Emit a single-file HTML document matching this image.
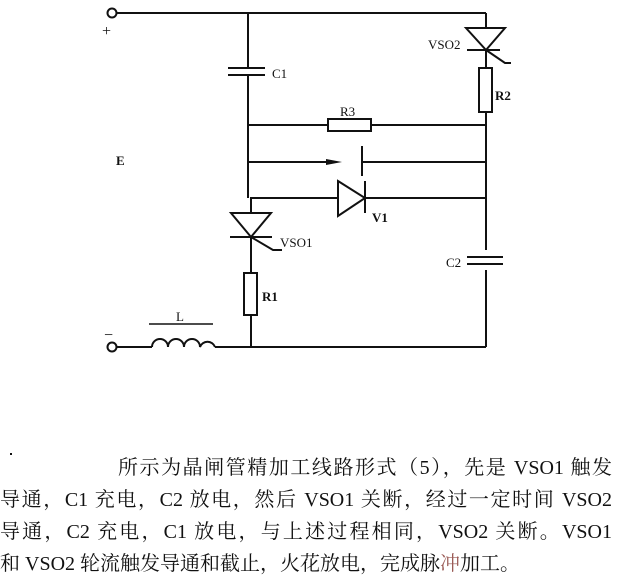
<!DOCTYPE html>
<html><head><meta charset="utf-8"><style>
body{margin:0;background:#fff;width:622px;height:584px;overflow:hidden;position:relative}
svg{position:absolute;left:0;top:0}
.t{position:absolute;font-family:"Liberation Serif","Noto Serif CJK SC",serif;font-size:20px;color:#111;text-align:justify;text-align-last:justify;white-space:nowrap;line-height:24px;height:24px}
</style></head><body>
<svg width="622" height="440" viewBox="0 0 622 440" font-family="Liberation Serif, serif" fill="none" stroke="#111" stroke-width="2">
<circle cx="112" cy="13" r="4.5" fill="#fff"/>
<line x1="116" y1="13" x2="486" y2="13"/>
<line x1="486" y1="13" x2="486" y2="347"/>
<!-- C1 -->
<line x1="248" y1="13" x2="248" y2="68"/>
<line x1="228" y1="68" x2="265" y2="68"/>
<line x1="228" y1="75" x2="265" y2="75"/>
<line x1="248" y1="75" x2="248" y2="198"/>
<!-- R3 -->
<line x1="248" y1="125" x2="328" y2="125"/>
<rect x="328" y="119" width="43" height="12" fill="#fff"/>
<line x1="371" y1="125" x2="486" y2="125"/>
<!-- arrow line -->
<line x1="248" y1="162" x2="330" y2="162"/>
<polygon points="326,159 342,162 326,165" fill="#111" stroke="none"/>
<line x1="362" y1="146" x2="362" y2="176"/>
<line x1="362" y1="162" x2="486" y2="162"/>
<!-- diode V1 -->
<line x1="250" y1="198" x2="486" y2="198"/>
<polygon points="338,181 365,198 338,216" fill="#fff"/>
<line x1="365" y1="181" x2="365" y2="213"/>
<!-- VSO2 -->
<polygon points="466,28 505,28 486,50" fill="#fff"/>
<line x1="467" y1="50" x2="500" y2="50"/>
<polyline points="486,50 505,63 511,63"/>
<rect x="479" y="68" width="13" height="44" fill="#fff"/>
<!-- VSO1 -->
<line x1="251" y1="198" x2="251" y2="347"/>
<polygon points="231,213 271,213 251,237" fill="#fff"/>
<line x1="230" y1="237" x2="272" y2="237"/>
<polyline points="251,237 273,250 282,250"/>
<rect x="244" y="273" width="13" height="42" fill="#fff"/>
<!-- C2 -->
<line x1="486" y1="250" x2="486" y2="270" stroke="#fff" stroke-width="6"/>
<line x1="467" y1="257" x2="503" y2="257"/>
<line x1="467" y1="264" x2="503" y2="264"/>
<!-- bottom -->
<circle cx="112" cy="347" r="4.5" fill="#fff"/>
<line x1="116" y1="347" x2="152" y2="347"/>
<path d="M152,347 a8,8 0 0 1 16,0 a8,8 0 0 1 16,0 a8,8 0 0 1 16,0 a8,8 0 0 1 15,0"/>
<line x1="215" y1="347" x2="486" y2="347"/>
<line x1="149" y1="324" x2="213" y2="324" stroke-width="1.5"/>
<g fill="#111" stroke="none" font-size="13">
<text x="272" y="78">C1</text>
<text x="428" y="49">VSO2</text>
<text x="495" y="100" font-weight="bold">R2</text>
<text x="340" y="116">R3</text>
<text x="372" y="222" font-weight="bold">V1</text>
<text x="280" y="247">VSO1</text>
<text x="262" y="301" font-weight="bold">R1</text>
<text x="446" y="267">C2</text>
<text x="176" y="321">L</text>
<text x="116" y="165" font-weight="bold">E</text>
<text x="102" y="36" font-size="16">+</text>
<text x="104" y="340" font-size="16">−</text>
</g>
<circle cx="12" cy="454" r="1" fill="#111" stroke="none"/>
</svg>
<div class="t" style="left:118px;top:456px;width:494px">所示为晶闸管精加工线路形式（5），先是 VSO1 触发</div>
<div class="t" style="left:0;top:488px;width:612px">导通，C1 充电，C2 放电，然后 VSO1 关断，经过一定时间 VSO2</div>
<div class="t" style="left:0;top:520px;width:612px">导通，C2 充电，C1 放电，与上述过程相同，VSO2 关断。VSO1</div>
<div class="t" style="left:0;top:552px;width:560px;text-align-last:left">和 VSO2 轮流触发导通和截止，火花放电，完成脉<span style="color:#9a5a55">冲</span>加工。</div>
<div style="position:absolute;left:10px;top:453px;width:2px;height:2px;background:#111"></div>
</body></html>
